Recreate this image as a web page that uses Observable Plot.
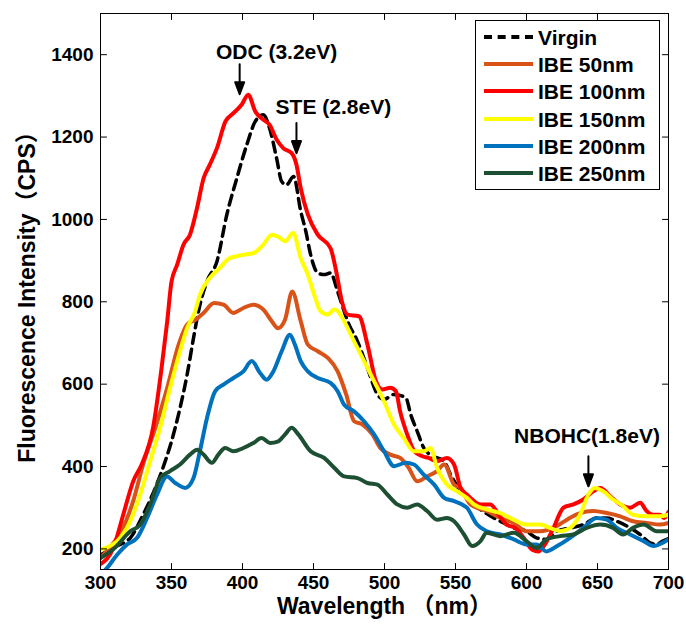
<!DOCTYPE html>
<html>
<head>
<meta charset="utf-8">
<script src="https://cdn.jsdelivr.net/npm/d3@7"></script>
<script src="https://cdn.jsdelivr.net/npm/@observablehq/plot@0.6"></script>
<style>
  html, body { margin: 0; padding: 0; background: #fff; }
  #chart { position: relative; width: 686px; height: 624px; font-family: "Liberation Sans", Arial, "Noto Sans CJK SC", sans-serif; }
  #legend { position: absolute; left: 475px; top: 20px; width: 183px; height: 168px; border: 1px solid #000; background: #fff; box-sizing: content-box; }
  .entry { position: absolute; left: 0; height: 27px; width: 183px; }
  .swatch { position: absolute; left: 8px; top: 12px; width: 49px; height: 0; }
  .name { position: absolute; left: 62px; top: 0px; font-size: 21px; font-weight: bold; color: #000; line-height: 25px; white-space: nowrap; }
</style>
</head>
<body>
<div id="chart"></div>
<script>
// Photoluminescence spectra of fused silica before and after ion beam etching (IBE)

// Virgin sample
const virginNm  = [300, 310, 321, 330, 338.6, 345.6, 350, 356, 361, 365.5, 369, 375, 382, 389, 396, 403, 409, 414.7, 419, 424, 427.6, 431, 436, 441, 444.6, 448, 453, 457.5, 462, 467, 471.6, 474, 481, 488, 495, 499.6, 506.6, 515, 518.5, 523, 527.7, 532, 541.8, 546.6, 553.5, 562, 570, 577, 584, 591, 600, 607, 614, 621.5, 631, 640, 649.5, 656.5, 663.6, 673, 680, 687, 691.7, 696, 700];
const virginCps = [185, 205, 227, 283, 348, 413, 461, 542, 623, 712, 777, 850, 898, 1012, 1100, 1181, 1238, 1254, 1222, 1149, 1092, 1084, 1104, 1020, 971, 914, 870, 866, 870, 825, 777, 753, 704, 639, 575, 563, 575, 567, 526, 486, 445, 429, 413, 380, 340, 310, 290, 275, 263, 251, 243, 227, 223, 243, 251, 259, 275, 275, 267, 251, 235, 215, 211, 219, 225];

// IBE 50nm
const ibe50Nm  = [300, 307, 314.7, 323, 330, 338.6, 347, 355, 361, 367, 372.6, 380, 386.6, 393.6, 400.6, 407.6, 414.7, 420.6, 425, 430, 435, 441, 446, 453, 460, 467, 473, 478.6, 484.5, 491.5, 497, 504, 511, 517, 523, 530, 537, 542, 549, 553.5, 560.5, 572, 581.6, 591, 600, 609.7, 619, 628.5, 637.7, 647, 656.5, 666, 675, 684.6, 694, 700];
const ibe50Cps = [178, 205, 243, 316, 405, 494, 591, 696, 745, 757, 773, 797, 793, 773, 785, 793, 781, 753, 736, 757, 825, 753, 696, 680, 664, 631, 575, 510, 502, 478, 445, 429, 421, 397, 364, 376, 389, 405, 356, 348, 308, 292, 275, 263, 243, 243, 251, 271, 287, 292, 287, 279, 267, 263, 259, 263];

// IBE 100nm
const ibe100Nm  = [300, 309, 316, 323, 329, 337, 343, 347, 350, 354, 358.5, 363, 368, 372.6, 377, 382, 388, 393.6, 399.5, 404, 409, 414.7, 419, 424, 428.7, 434.6, 438, 441, 446, 453, 462, 466, 470, 474, 482, 488, 494, 498.5, 504, 508, 511, 516, 521, 526.6, 531, 537, 544, 549, 553.6, 558, 567.6, 574.6, 580.5, 586, 592, 598, 604, 608.5, 613, 619, 626, 633, 640, 647, 652, 659, 666, 673, 680, 684.6, 689, 694, 697, 700];
const ibe100Cps = [163, 202, 283, 364, 405, 494, 639, 753, 849, 890, 939, 963, 1028, 1100, 1133, 1173, 1238, 1258, 1279, 1303, 1262, 1242, 1230, 1194, 1173, 1161, 1133, 1076, 1012, 963, 930, 874, 801, 769, 765, 696, 607, 587, 591, 583, 534, 478, 437, 425, 421, 413, 421, 405, 348, 332, 308, 308, 283, 259, 251, 227, 198, 194, 211, 251, 300, 308, 320, 340, 348, 328, 308, 300, 312, 292, 283, 283, 275, 290];

// IBE 150nm
const ibe150Nm  = [300, 311.7, 321, 328, 335, 342, 349, 356, 361, 366.7, 370, 377, 384, 391, 400.6, 407.6, 414.7, 420.6, 426.5, 430, 435.7, 441, 446, 450.5, 455, 460, 464.5, 469, 471.6, 478.6, 485.6, 492.7, 499.7, 506.7, 513.7, 520.7, 527.7, 532.4, 537, 544, 551, 558, 563, 572, 581.6, 591, 600, 609.7, 616.6, 623.6, 630.7, 637.7, 643.6, 648, 654, 661, 668, 675, 684.6, 694, 700];
const ibe150Cps = [199, 219, 267, 332, 413, 494, 591, 680, 736, 777, 817, 858, 882, 906, 914, 918, 939, 963, 955, 947, 967, 906, 866, 817, 777, 769, 781, 769, 753, 704, 656, 607, 558, 502, 469, 437, 437, 445, 397, 356, 340, 324, 308, 296, 287, 271, 259, 259, 251, 243, 251, 283, 332, 348, 340, 320, 304, 283, 279, 279, 283];

// IBE 200nm
const ibe200Nm  = [301, 304.7, 311.7, 318.7, 325.8, 332.8, 339.8, 346.8, 352.7, 359.7, 365.5, 370, 375, 380.8, 386.6, 393.6, 400.6, 406.5, 412.4, 417, 421.7, 427.6, 433.4, 436.9, 441, 446, 453, 462, 467, 471.6, 478.6, 485.6, 492.7, 499.7, 506.7, 515, 520.7, 527.7, 535, 542, 549, 558, 565, 572, 581.6, 591, 600, 607, 614, 621.6, 630.7, 640, 649.5, 656.5, 663.6, 673, 682.5, 689.5, 696, 700];
const ibe200Cps = [140, 154, 186, 211, 227, 275, 332, 376, 360, 348, 372, 437, 518, 583, 599, 615, 631, 656, 627, 611, 631, 680, 720, 696, 656, 631, 615, 603, 583, 550, 534, 510, 478, 437, 401, 409, 405, 380, 356, 324, 316, 300, 260, 243, 235, 223, 211, 211, 194, 207, 227, 251, 275, 271, 251, 235, 219, 207, 215, 223];

// IBE 250nm
const ibe250Nm  = [300, 309, 321, 328, 335, 342, 349, 356, 363, 368, 372.6, 378.4, 383, 387.8, 393.6, 400.6, 407.6, 413.5, 419.4, 425.2, 430, 434.6, 439.3, 448, 457.5, 464.6, 471.6, 481, 488, 495, 502, 509, 516, 523, 530, 537, 544, 549, 556, 561.7, 567.6, 572, 581.6, 591, 600, 607, 614, 623.6, 633, 642.4, 652, 661, 668, 675, 682.5, 691.7, 700];
const ibe250Cps = [178, 199, 243, 259, 308, 372, 389, 405, 429, 441, 429, 409, 429, 445, 437, 445, 457, 469, 457, 461, 478, 494, 478, 437, 421, 397, 376, 372, 360, 356, 332, 308, 300, 308, 292, 271, 275, 267, 235, 207, 219, 239, 231, 239, 219, 202, 223, 231, 235, 251, 259, 251, 235, 251, 259, 243, 243];

const seriesNames  = ["Virgin", "IBE 50nm", "IBE 100nm", "IBE 150nm", "IBE 200nm", "IBE 250nm"];
const seriesColors = ["#000000", "#D95319", "#FF0000", "#FFFF00", "#0072BD", "#1D4F33"];
const seriesNm  = [virginNm, ibe50Nm, ibe100Nm, ibe150Nm, ibe200Nm, ibe250Nm];
const seriesCps = [virginCps, ibe50Cps, ibe100Cps, ibe150Cps, ibe200Cps, ibe250Cps];

// Axis ticks and limits
const xTicks = [300, 350, 400, 450, 500, 550, 600, 650, 700];
const yTicks = [200, 400, 600, 800, 1000, 1200, 1400];
const xLimits = [300, 700];
const yLimits = [150, 1500];

// Emission band annotations: label position and arrow tip
const bandLabels = ["ODC (3.2eV)", "STE (2.8eV)", "NBOHC(1.8eV)"];
const bandLabelNm = [424, 464, 642.6];
const bandLabelCps = [1406, 1272, 473];
const bandArrowNm = [398, 438, 643.6];
const bandArrowCps = [1304, 1161, 352];

const rows = seriesNames.flatMap((name, i) =>
  seriesNm[i].map((nm, j) => ({series: name, nm, cps: seriesCps[i][j]}))
);
const bands = bandLabels.map((label, i) => ({
  label, lx: bandLabelNm[i], ly: bandLabelCps[i], ax: bandArrowNm[i], ay: bandArrowCps[i]
}));

// Down-pointing arrow with a filled head
const arrowShape = {
  draw(context, l) {
    const h = 12, w = 4.5;
    context.moveTo(0, 0);
    context.lineTo(0, -l + h);
    context.moveTo(-w, -l + h);
    context.lineTo(0, -l);
    context.lineTo(w, -l + h);
    context.closePath();
  }
};

// Plain straight segment, used for the inward axis ticks
const tickShape = {
  draw(context, l) {
    context.moveTo(0, 0);
    context.lineTo(0, -l);
  }
};

const lineMarks = seriesNames.map((name, i) =>
  Plot.line(rows.filter(d => d.series === name), {
    x: "nm", y: "cps",
    curve: "monotone-x",
    stroke: seriesColors[i],
    strokeWidth: i === 0 ? 3.5 : 4,
    strokeDasharray: i === 0 ? "10,6" : null,
    strokeLinejoin: "round",
    clip: true
  })
);

const tickOpts = {length: 6, anchor: "start", shape: tickShape, stroke: "#000", strokeWidth: 1};

const plot = Plot.plot({
  width: 686,
  height: 624,
  marginLeft: 100,
  marginRight: 18,
  marginTop: 13,
  marginBottom: 55,
  style: {fontFamily: '"Liberation Sans", Arial, "Noto Sans CJK SC", sans-serif', fontSize: "19px", fontWeight: "bold", color: "#000", background: "#fff"},
  x: {domain: xLimits},
  y: {domain: yLimits},
  marks: [
    ...lineMarks,
    Plot.frame({stroke: "#000", strokeWidth: 1}),
    // tick labels
    Plot.axisX(xTicks, {anchor: "bottom", tickSize: 0, tickPadding: 6, label: null, fontSize: 19, tickFormat: d => String(d)}),
    Plot.axisY(yTicks, {anchor: "left", tickSize: 0, tickPadding: 7, label: null, fontSize: 19, tickFormat: d => String(d)}),
    // inward tick marks on all four sides
    Plot.vector(xTicks, {...tickOpts, x: d => d, y: () => yLimits[0], rotate: 0}),
    Plot.vector(xTicks, {...tickOpts, x: d => d, y: () => yLimits[1], rotate: 180}),
    Plot.vector(yTicks, {...tickOpts, x: () => xLimits[0], y: d => d, rotate: 90}),
    Plot.vector(yTicks, {...tickOpts, x: () => xLimits[1], y: d => d, rotate: -90}),
    // axis titles
    Plot.text(["Wavelength （nm）"], {frameAnchor: "bottom", dy: 37, lineAnchor: "middle", textAnchor: "middle", fontSize: 23}),
    Plot.text(["Fluorescence Intensity（CPS）"], {frameAnchor: "left", dx: -73, rotate: -90, lineAnchor: "middle", textAnchor: "middle", fontSize: 23}),
    // band annotations
    Plot.text(bands, {x: "lx", y: "ly", text: "label", fontSize: 21}),
    Plot.vector(bands, {x: "ax", y: "ay", length: 30, rotate: 180, anchor: "end", shape: arrowShape, stroke: "#000", fill: "#000", strokeWidth: 2})
  ]
});

const chart = document.getElementById("chart");
chart.appendChild(plot);

// Legend box drawn over the upper right corner of the axes
const legend = document.createElement("div");
legend.id = "legend";
seriesNames.forEach((name, i) => {
  const entry = document.createElement("div");
  entry.className = "entry";
  entry.style.top = (4 + i * 27.2) + "px";
  const sw = document.createElement("div");
  sw.className = "swatch";
  sw.style.borderTop = "4px " + (i === 0 ? "dashed " : "solid ") + seriesColors[i];
  sw.style.marginTop = "-2px";
  const label = document.createElement("div");
  label.className = "name";
  label.textContent = name;
  entry.appendChild(sw);
  entry.appendChild(label);
  legend.appendChild(entry);
});
chart.appendChild(legend);
</script>
</body>
</html>
